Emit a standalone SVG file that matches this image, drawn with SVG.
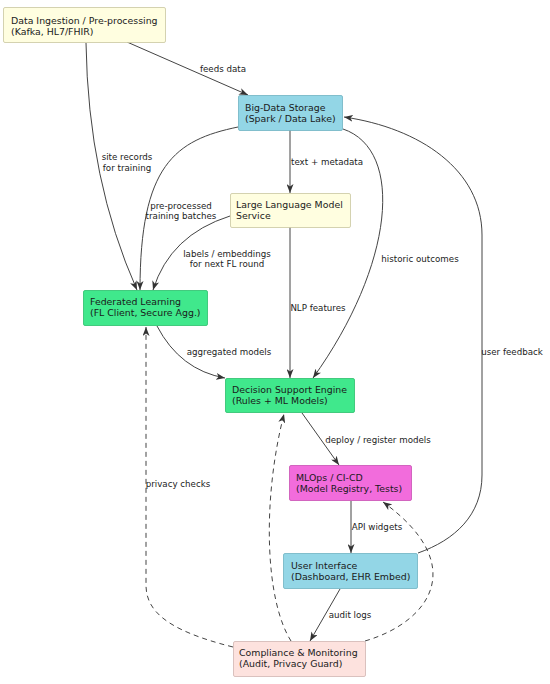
<svg xmlns="http://www.w3.org/2000/svg" width="550" height="684" viewBox="0 0 550 684">
<style>
.n rect{stroke-width:0.8;}
.n text{font-family:"DejaVu Sans",sans-serif;font-size:9.4px;fill:#1a1a1a;}
.e path{fill:none;stroke:#444;stroke-width:1;}
.e .d{stroke-dasharray:5,4;}
.l text{font-family:"DejaVu Sans",sans-serif;font-size:8.7px;fill:#222;text-anchor:middle;}
.y{fill:#fffee0;stroke:#c9c7a0;}
.b{fill:#93d6e6;stroke:#6fb2c2;}
.g{fill:#40e88c;stroke:#2cbf6c;}
.m{fill:#f26cdc;stroke:#c850b3;}
.p{fill:#fde2de;stroke:#d1b5b1;}
</style>
<defs>
<marker id="a" markerUnits="userSpaceOnUse" markerWidth="9" markerHeight="7" refX="9" refY="3.5" orient="auto">
<path d="M0,0 L9,3.5 L0,7 L2.5,3.5 z" fill="#333"/>
</marker>
</defs>
<rect width="550" height="684" fill="#fff"/>
<g class="e">
<path d="M127,42 L248,95" marker-end="url(#a)"/>
<path d="M86,43 Q88,180 137,290" marker-end="url(#a)"/>
<path d="M238,127 C175,140 140,165 140,290" marker-end="url(#a)"/>
<path d="M290,130 L290,193" marker-end="url(#a)"/>
<path d="M230,216 Q170,235 153,290" marker-end="url(#a)"/>
<path d="M343,129 C405,150 394,265 313,378" marker-end="url(#a)"/>
<path d="M290,227 L290,378" marker-end="url(#a)"/>
<path d="M157,326 Q180,370 225,378" marker-end="url(#a)"/>
<path d="M302,413 L339,465" marker-end="url(#a)"/>
<path d="M351,501 L351,553" marker-end="url(#a)"/>
<path d="M418,553 C455,540 482,515 482,475 L482,235 C482,170 420,128 344,117" marker-end="url(#a)"/>
<path d="M340,589 L310,641" marker-end="url(#a)"/>
<path class="d" d="M233,647 C165,630 146,610 146,585 L146,327" marker-end="url(#a)"/>
<path class="d" d="M291,641 C265,600 262,500 284,414" marker-end="url(#a)"/>
<path class="d" d="M365,641 C430,622 470,565 383,502" marker-end="url(#a)"/>
</g>
<g class="l">
<text x="223" y="72">feeds data</text>
<text x="127" y="160">site records</text>
<text x="127" y="171">for training</text>
<text x="181" y="209">pre-processed</text>
<text x="181" y="219">training batches</text>
<text x="327" y="165">text + metadata</text>
<text x="227" y="257">labels / embeddings</text>
<text x="227" y="267">for next FL round</text>
<text x="420" y="262">historic outcomes</text>
<text x="318" y="311">NLP features</text>
<text x="229" y="355">aggregated models</text>
<text x="378" y="443">deploy / register models</text>
<text x="377" y="530">API widgets</text>
<text x="512" y="355">user feedback</text>
<text x="350" y="618">audit logs</text>
<text x="178" y="487">privacy checks</text>
</g>
<g id="ingestion" class="n"><rect class="y" x="3.5" y="7.5" width="162" height="35" rx="1.5"/><text x="11" y="24">Data Ingestion / Pre-processing</text><text x="11" y="35">(Kafka, HL7/FHIR)</text></g>
<g id="bigdata" class="n"><rect class="b" x="238.5" y="95.5" width="104" height="35" rx="1.5"/><text x="245" y="111">Big-Data Storage</text><text x="245" y="122">(Spark / Data Lake)</text></g>
<g id="llm" class="n"><rect class="y" x="230.5" y="193.5" width="120" height="34" rx="1.5"/><text x="236" y="208">Large Language Model</text><text x="236" y="219">Service</text></g>
<g id="fl" class="n"><rect class="g" x="83.5" y="290.5" width="124" height="35" rx="1.5"/><text x="90" y="305">Federated Learning</text><text x="90" y="316">(FL Client, Secure Agg.)</text></g>
<g id="decision" class="n"><rect class="g" x="225.5" y="378.5" width="129" height="34" rx="1.5"/><text x="232" y="393">Decision Support Engine</text><text x="232" y="404">(Rules + ML Models)</text></g>
<g id="mlops" class="n"><rect class="m" x="289.5" y="465.5" width="122" height="35" rx="1.5"/><text x="296" y="481">MLOps / CI-CD</text><text x="296" y="492">(Model Registry, Tests)</text></g>
<g id="ui" class="n"><rect class="b" x="283.5" y="553.5" width="134" height="35" rx="1.5"/><text x="291" y="569">User Interface</text><text x="291" y="580">(Dashboard, EHR Embed)</text></g>
<g id="compliance" class="n"><rect class="p" x="233.5" y="641.5" width="132" height="35" rx="1.5"/><text x="239" y="656">Compliance &amp; Monitoring</text><text x="239" y="667">(Audit, Privacy Guard)</text></g>
</svg>
